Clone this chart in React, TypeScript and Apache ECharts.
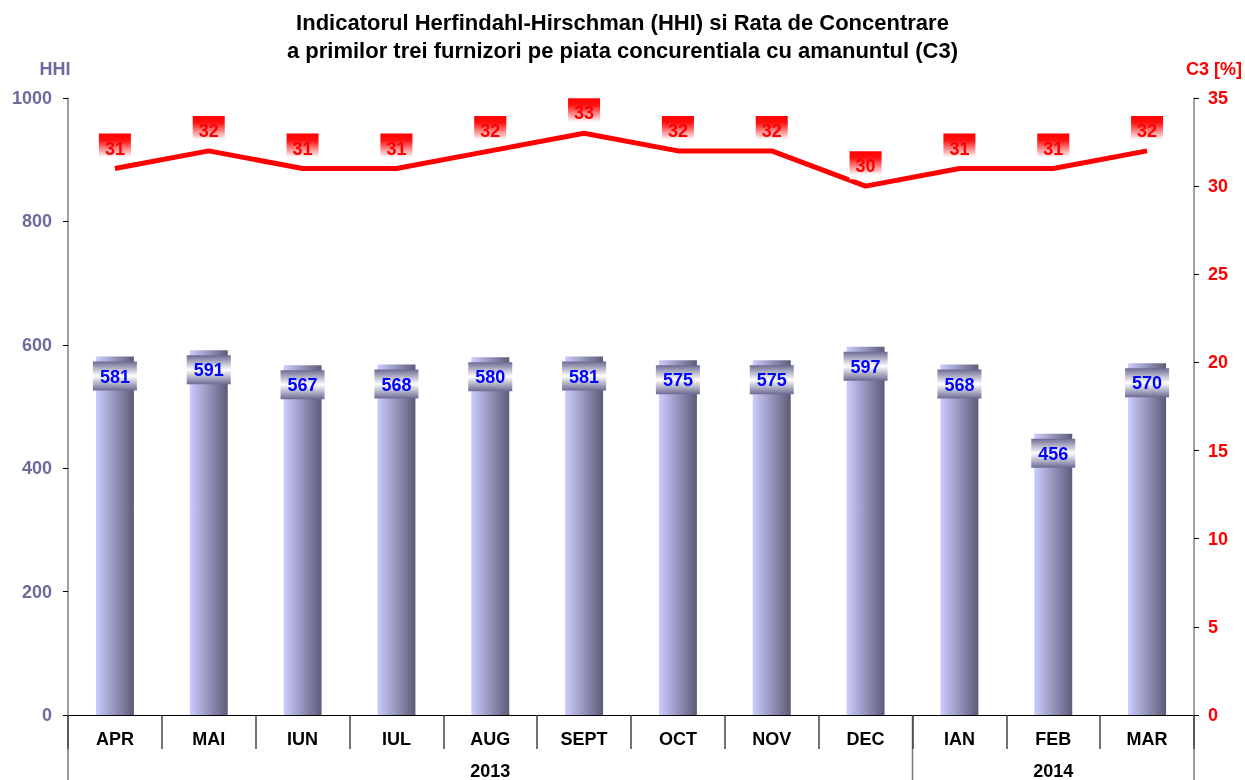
import React, { useEffect, useRef } from "react";
import * as echarts from "echarts";

const months = ["APR", "MAI", "IUN", "IUL", "AUG", "SEPT", "OCT", "NOV", "DEC", "IAN", "FEB", "MAR"];
const yearLabels = ["", "", "", "", "2013", "", "", "", "", "", "2014", ""];
const yearBoundaries = [0, 9, 12];
const hhiValues = [581, 591, 567, 568, 580, 581, 575, 575, 597, 568, 456, 570];
const c3Values = [31, 32, 31, 31, 32, 33, 32, 32, 30, 31, 31, 32];
const titleLines = [
  "Indicatorul Herfindahl-Hirschman (HHI) si Rata de Concentrare",
  "a primilor trei furnizori pe piata concurentiala cu amanuntul (C3)",
];

const FONT = "'Liberation Sans', Arial, sans-serif";

export default function App() {
  const ref = useRef<HTMLDivElement>(null);
  useEffect(() => {
    if (!ref.current) return;
    const chart = echarts.init(ref.current, undefined, { renderer: "svg" });
    const barGrad = new echarts.graphic.LinearGradient(0, 0, 1, 0, [
      { offset: 0, color: "#ccccff" },
      { offset: 1, color: "#5c5c78" },
    ]);
    const barLabelGrad = new echarts.graphic.LinearGradient(0, 0, 0, 1, [
      { offset: 0, color: "#6a6a92" },
      { offset: 0.5, color: "#ffffff" },
      { offset: 1, color: "#6a6a92" },
    ]);
    const redLabelGrad = new echarts.graphic.LinearGradient(0, 0, 0, 1, [
      { offset: 0, color: "#ff0000" },
      { offset: 0.25, color: "#ff1010" },
      { offset: 0.85, color: "#ffffff" },
      { offset: 1, color: "#ffffff" },
    ]);
    chart.setOption({
      animation: false,
      textStyle: { fontFamily: FONT },
      title: {
        text: titleLines.join("\n"),
        left: "center",
        top: 3,
        textStyle: { fontFamily: FONT, fontSize: 22, fontWeight: "bold", color: "#000", lineHeight: 28 },
      },
      grid: { left: 68, right: 51, top: 98, bottom: 65, containLabel: false },
      xAxis: [
        {
          type: "category",
          data: months,
          position: "bottom",
          axisLine: { show: true, lineStyle: { color: "#000", width: 1 } },
          axisTick: { show: true, length: 34, lineStyle: { color: "#444", width: 1.5 } },
          axisLabel: { fontFamily: FONT, fontSize: 18, fontWeight: "bold", color: "#000", margin: 15, interval: 0 },
          splitLine: { show: false },
        },
        {
          type: "category",
          data: months,
          position: "bottom",
          offset: 34,
          axisLine: { show: false },
          axisTick: { show: false },
          axisLabel: {
            show: true,
            interval: 0,
            fontFamily: FONT,
            fontSize: 18,
            fontWeight: "bold",
            color: "#000",
            margin: 13,
            formatter: (_v: string, i: number) => yearLabels[i],
          },
        },
      ],
      yAxis: [
        {
          type: "value",
          min: 0,
          max: 1000,
          interval: 200,
          name: "HHI",
          nameGap: 20,
          nameTextStyle: { fontFamily: FONT, fontSize: 18, fontWeight: "bold", color: "#6b6b9e", padding: [0, 26, 0, 0] },
          axisLine: { show: true, lineStyle: { color: "#808080", width: 1.5 } },
          axisTick: { show: true, length: 5, lineStyle: { color: "#000" } },
          axisLabel: {
            fontFamily: FONT,
            fontSize: 18,
            fontWeight: "bold",
            color: "#6b6b9e",
            margin: 16,
            formatter: (v: number) => String(v),
          },
          splitLine: { show: false },
        },
        {
          type: "value",
          min: 0,
          max: 35,
          interval: 5,
          position: "right",
          name: "C3 [%]",
          nameGap: 20,
          nameTextStyle: { fontFamily: FONT, fontSize: 18, fontWeight: "bold", color: "#ff0000", padding: [0, 0, 0, 40] },
          axisLine: { show: true, lineStyle: { color: "#808080", width: 1.5 } },
          axisTick: { show: true, length: 5, lineStyle: { color: "#000" } },
          axisLabel: {
            fontFamily: FONT,
            fontSize: 18,
            fontWeight: "bold",
            color: "#ff0000",
            margin: 14,
            formatter: (v: number) => String(v),
          },
          splitLine: { show: false },
        },
      ],
      series: [
        {
          type: "bar",
          data: hhiValues,
          xAxisIndex: 0,
          yAxisIndex: 0,
          barWidth: 38,
          itemStyle: { color: barGrad },
          label: {
            show: true,
            position: "insideTop",
            distance: 5,
            fontFamily: FONT,
            fontSize: 18,
            fontWeight: "bold",
            color: "#0000ff",
            lineHeight: 20,
            backgroundColor: barLabelGrad,
            padding: [5, 7, 4, 7],
          },
          z: 2,
        },
        {
          type: "line",
          data: c3Values,
          xAxisIndex: 0,
          yAxisIndex: 1,
          showSymbol: true,
          symbol: "circle",
          symbolSize: 0,
          itemStyle: { color: "#ff0000" },
          lineStyle: { color: "#ff0000", width: 5 },
          label: {
            show: true,
            position: "top",
            distance: 7,
            fontFamily: FONT,
            fontSize: 18,
            fontWeight: "bold",
            color: "#ff0000",
            lineHeight: 20,
            backgroundColor: redLabelGrad,
            padding: [5, 6, 3, 6],
          },
          z: 3,
        },
      ],
    });

    // Year-group dividers, positioned through the category axis scale
    const x0 = chart.convertToPixel({ xAxisIndex: 0 }, months[0]) as number;
    const x1 = chart.convertToPixel({ xAxisIndex: 0 }, months[1]) as number;
    const band = x1 - x0;
    const yTop = chart.convertToPixel({ yAxisIndex: 0 }, 0) as number;
    const dividers = yearBoundaries.map((b) => {
      const x = x0 - band / 2 + b * band;
      return {
        type: "line",
        shape: { x1: x, y1: yTop, x2: x, y2: 780 },
        style: { stroke: "#777", lineWidth: 1.5 },
        silent: true,
      };
    });
    chart.setOption({ graphic: dividers });

    return () => chart.dispose();
  }, []);
  return <div ref={ref} style={{ position: "fixed", left: 0, top: 0, width: 1245, height: 780 }} />;
}
